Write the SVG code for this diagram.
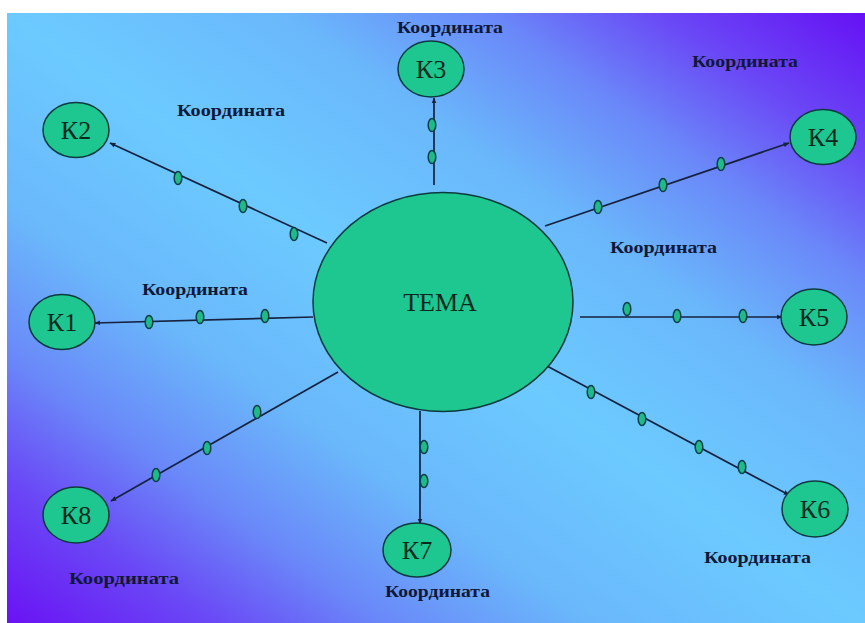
<svg xmlns="http://www.w3.org/2000/svg" width="865" height="623" viewBox="0 0 865 623">
<defs>
<linearGradient id="bg" x1="1" y1="0" x2="0" y2="1">
<stop offset="0" stop-color="#6610f4"/>
<stop offset="0.12" stop-color="#6a48f6"/>
<stop offset="0.22" stop-color="#6a88f9"/>
<stop offset="0.34" stop-color="#6ab8fb"/>
<stop offset="0.5" stop-color="#6ccaff"/>
<stop offset="0.66" stop-color="#6ab8fb"/>
<stop offset="0.78" stop-color="#6a88f9"/>
<stop offset="0.88" stop-color="#6a48f6"/>
<stop offset="1" stop-color="#6a12f4"/>
</linearGradient>
<marker id="arr" viewBox="0 0 10 10" refX="9" refY="5" markerWidth="6" markerHeight="6" markerUnits="userSpaceOnUse" orient="auto">
<path d="M0,1 L10,5 L0,9 Z" fill="#16223f"/>
</marker>
</defs>
<style>
.node{fill:#1ec78f;stroke:#0d3a3e;stroke-width:1.5}
.nt{font-family:"Liberation Serif","Times New Roman",serif;font-size:26px;fill:#082a1e;text-anchor:middle}
.lbl{font-family:"Liberation Serif","Times New Roman",serif;font-size:16px;font-weight:bold;fill:#101838}
.ln{stroke:#16223f;stroke-width:1.7;fill:none;marker-end:url(#arr)}
.dot{fill:#1fb98a;stroke:#0a3f48;stroke-width:1.5}
</style>
<rect x="0" y="0" width="865" height="623" fill="#ffffff"/>
<rect x="7" y="13" width="858" height="610" fill="url(#bg)"/>

<g id="connectors">
<line class="ln" x1="434" y1="185" x2="434" y2="98"/>
<line class="ln" x1="327" y1="243" x2="110" y2="143"/>
<line class="ln" x1="545" y1="226" x2="789" y2="143"/>
<line class="ln" x1="313" y1="317" x2="95" y2="323"/>
<line class="ln" x1="580" y1="317" x2="782" y2="317"/>
<line class="ln" x1="547" y1="366" x2="789" y2="495"/>
<line class="ln" x1="420" y1="411" x2="420" y2="524"/>
<line class="ln" x1="338" y1="372" x2="111" y2="501"/>
<g id="ticks">
<ellipse class="dot" cx="432" cy="125" rx="3.8" ry="6.5"/>
<ellipse class="dot" cx="432" cy="157" rx="3.8" ry="6.5"/>
<ellipse class="dot" cx="178" cy="178" rx="3.8" ry="6.5"/>
<ellipse class="dot" cx="243" cy="206" rx="3.8" ry="6.5"/>
<ellipse class="dot" cx="294" cy="234" rx="3.8" ry="6.5"/>
<ellipse class="dot" cx="598" cy="207" rx="3.8" ry="6.5"/>
<ellipse class="dot" cx="663" cy="185" rx="3.8" ry="6.5"/>
<ellipse class="dot" cx="721" cy="164" rx="3.8" ry="6.5"/>
<ellipse class="dot" cx="149" cy="322" rx="3.8" ry="6.5"/>
<ellipse class="dot" cx="200" cy="317" rx="3.8" ry="6.5"/>
<ellipse class="dot" cx="265" cy="316" rx="3.8" ry="6.5"/>
<ellipse class="dot" cx="627" cy="309" rx="3.8" ry="6.5"/>
<ellipse class="dot" cx="677" cy="316" rx="3.8" ry="6.5"/>
<ellipse class="dot" cx="743" cy="316" rx="3.8" ry="6.5"/>
<ellipse class="dot" cx="591" cy="392" rx="3.8" ry="6.5"/>
<ellipse class="dot" cx="642" cy="419" rx="3.8" ry="6.5"/>
<ellipse class="dot" cx="699" cy="447" rx="3.8" ry="6.5"/>
<ellipse class="dot" cx="742" cy="467" rx="3.8" ry="6.5"/>
<ellipse class="dot" cx="424" cy="447" rx="3.8" ry="6.5"/>
<ellipse class="dot" cx="424" cy="481" rx="3.8" ry="6.5"/>
<ellipse class="dot" cx="257" cy="412" rx="3.8" ry="6.5"/>
<ellipse class="dot" cx="207" cy="448" rx="3.8" ry="6.5"/>
<ellipse class="dot" cx="156" cy="475" rx="3.8" ry="6.5"/>
</g>
</g>

<g id="tema">
<ellipse class="node" cx="443" cy="302" rx="130" ry="109.5"/>
<text class="nt" x="440" y="311" font-size="27">ТЕМА</text>
</g>
<g id="k1">
<ellipse class="node" cx="62" cy="322" rx="33" ry="27.5"/>
<text class="nt" x="62" y="331">К1</text>
</g>
<g id="k2">
<ellipse class="node" cx="76" cy="130" rx="33" ry="27.5"/>
<text class="nt" x="76" y="139">К2</text>
</g>
<g id="k3">
<ellipse class="node" cx="431" cy="69" rx="33" ry="28"/>
<text class="nt" x="431" y="78">К3</text>
</g>
<g id="k4">
<ellipse class="node" cx="823" cy="137" rx="33" ry="27.5"/>
<text class="nt" x="823" y="146">К4</text>
</g>
<g id="k5">
<ellipse class="node" cx="814" cy="317" rx="33" ry="28"/>
<text class="nt" x="814" y="326">К5</text>
</g>
<g id="k6">
<ellipse class="node" cx="815" cy="509" rx="33" ry="28"/>
<text class="nt" x="815" y="518">К6</text>
</g>
<g id="k7">
<ellipse class="node" cx="417" cy="550" rx="34" ry="27"/>
<text class="nt" x="417" y="559">К7</text>
</g>
<g id="k8">
<ellipse class="node" cx="76" cy="515" rx="33" ry="28"/>
<text class="nt" x="76" y="524">К8</text>
</g>

<g id="labels">
<text class="lbl" x="397" y="33" textLength="106" lengthAdjust="spacingAndGlyphs">Координата</text>
<text class="lbl" x="177" y="116" textLength="108" lengthAdjust="spacingAndGlyphs">Координата</text>
<text class="lbl" x="692" y="67" textLength="106" lengthAdjust="spacingAndGlyphs">Координата</text>
<text class="lbl" x="142" y="295" textLength="106" lengthAdjust="spacingAndGlyphs">Координата</text>
<text class="lbl" x="610" y="253" textLength="107" lengthAdjust="spacingAndGlyphs">Координата</text>
<text class="lbl" x="704" y="563" textLength="107" lengthAdjust="spacingAndGlyphs">Координата</text>
<text class="lbl" x="385" y="597" textLength="105" lengthAdjust="spacingAndGlyphs">Координата</text>
<text class="lbl" x="69" y="584" textLength="110" lengthAdjust="spacingAndGlyphs">Координата</text>
</g>
</svg>
